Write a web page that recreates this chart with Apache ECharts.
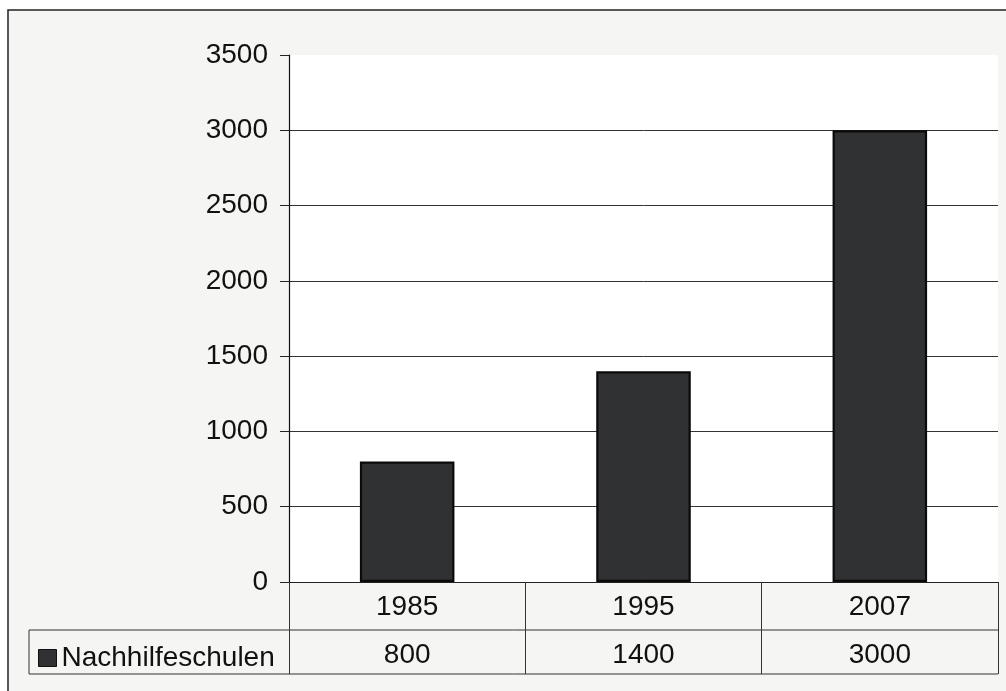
<!DOCTYPE html>
<html><head><meta charset="utf-8">
<script src="https://cdn.jsdelivr.net/npm/echarts@6/dist/echarts.min.js"></script>
<style>html,body{margin:0;padding:0;background:#fff}#c{width:1006px;height:691px}</style>
</head><body><div id="c"></div>
<script>
const categories = ['1985', '1995', '2007'];
const seriesName = 'Nachhilfeschulen';
const values = [800, 1400, 3000];
const yTicks = { min: 0, max: 3500, interval: 500 };

const FONT = 'Liberation Sans, Arial, sans-serif';
const FS = 28;
const chart = echarts.init(document.getElementById('c'), null, { renderer: 'canvas' });
const gridL = 289, gridT = 55, gridR = 998, gridB = 582;
const row1B = 630, row2B = 674, legendL = 29;

chart.setOption({
  animation: false,
  backgroundColor: '#ffffff',
  graphic: [
    { type: 'rect', z: -10, silent: true,
      shape: { x: 8, y: 10, width: 1020, height: 720 },
      style: { fill: '#f5f5f3', stroke: '#222', lineWidth: 1.5 } },
    { type: 'line', z: 10, shape: { x1: legendL, y1: row1B, x2: gridR, y2: row1B }, style: { stroke: '#333', lineWidth: 1 } },
    { type: 'line', z: 10, shape: { x1: legendL, y1: row2B, x2: gridR, y2: row2B }, style: { stroke: '#333', lineWidth: 1 } },
    { type: 'line', z: 10, shape: { x1: legendL, y1: row1B, x2: legendL, y2: row2B }, style: { stroke: '#333', lineWidth: 1 } }
  ],
  grid: { left: gridL, top: gridT, right: 1006 - gridR, bottom: 691 - gridB,
          show: true, backgroundColor: '#ffffff', borderWidth: 0 },
  legend: {
    left: 33, top: 639, itemWidth: 18, itemHeight: 17, icon: 'rect',
    data: [seriesName],
    itemStyle: { borderColor: '#111', borderWidth: 1 },
    textStyle: { fontFamily: FONT, fontSize: FS, color: '#111', padding: [0, 0, 0, 0] },
    itemGap: 4
  },
  xAxis: [
    { type: 'category', data: categories, position: 'bottom',
      axisLine: { show: true, lineStyle: { color: '#222', width: 1 } },
      axisTick: { show: true, alignWithLabel: false, length: row2B - gridB, lineStyle: { color: '#333', width: 1 } },
      axisLabel: { fontFamily: FONT, fontSize: FS, color: '#111', margin: 11 },
      splitLine: { show: false } },
    { type: 'category', data: values.map(String), position: 'bottom', offset: 48,
      axisLine: { show: false }, axisTick: { show: false },
      axisLabel: { fontFamily: FONT, fontSize: FS, color: '#111', margin: 11 },
      splitLine: { show: false } }
  ],
  yAxis: {
    type: 'value', min: yTicks.min, max: yTicks.max, interval: yTicks.interval,
    axisLine: { show: true, lineStyle: { color: '#111', width: 1.2 } },
    axisTick: { show: true, length: 9, lineStyle: { color: '#222', width: 1 } },
    axisLabel: { fontFamily: FONT, fontSize: FS, color: '#111', margin: 21, formatter: v => String(v) },
    splitLine: { show: true, showMaxLine: false, lineStyle: { color: '#333', width: 1 } }
  },
  series: [{
    name: seriesName, type: 'bar', data: values, xAxisIndex: 0,
    barWidth: '40%',
    itemStyle: { color: '#303133', borderColor: '#0a0a0a', borderWidth: 2.2 }
  }]
});
</script></body></html>
